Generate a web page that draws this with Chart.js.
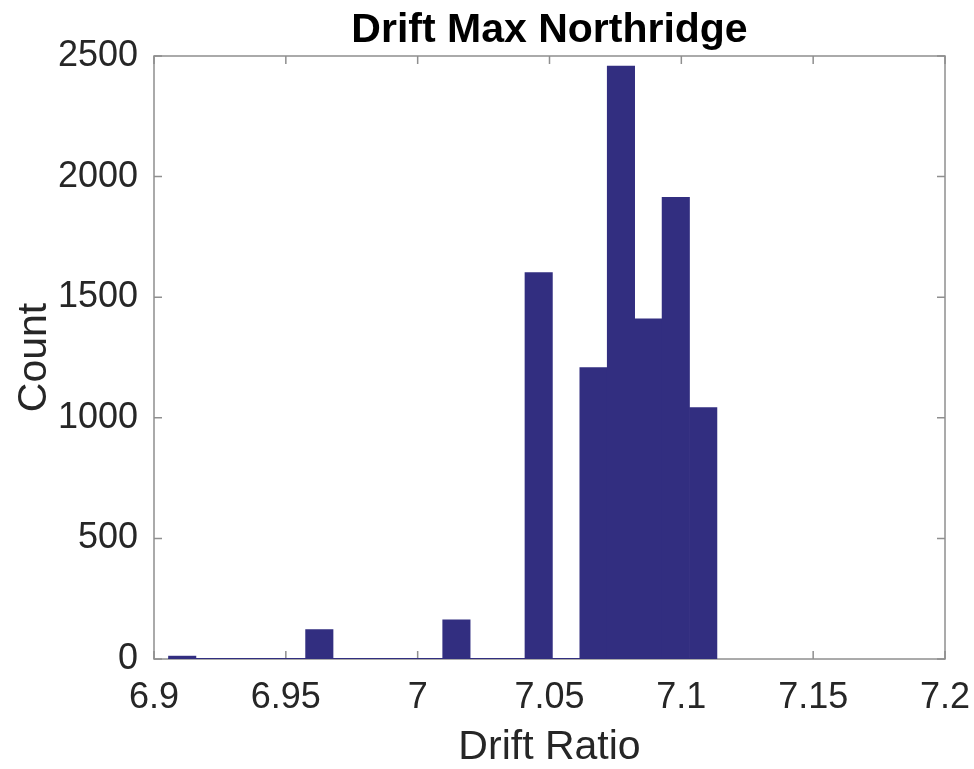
<!DOCTYPE html>
<html>
<head>
<meta charset="utf-8">
<script src="https://cdn.jsdelivr.net/npm/chart.js@4/dist/chart.umd.min.js"></script>
<style>
  html, body { margin: 0; padding: 0; background: #fff; }
  #wrap { width: 974px; height: 769px; }
</style>
</head>
<body>
<div id="wrap"><canvas id="chart" width="974" height="769"></canvas></div>
<script>
// histogram bin edges (drift ratio) and counts per bin
var binEdges = [6.9055, 6.9159, 6.9263, 6.9367, 6.9471, 6.9575, 6.9679, 6.9783, 6.9887, 6.9991,
                7.0095, 7.0199, 7.0303, 7.0407, 7.0511, 7.0615, 7.0719, 7.0823, 7.0927, 7.1031, 7.1135];
var counts = [12, 0, 0, 0, 0, 122, 0, 0, 0, 0, 162, 0, 0, 1602, 0, 1208, 2458, 1410, 1914, 1042];
var xTickLabels = ["6.9", "6.95", "7", "7.05", "7.1", "7.15", "7.2"];
var yTickLabels = ["0", "500", "1000", "1500", "2000", "2500"];

var barColor = "#322e80";
var boxColor = "#8f8f8f";
var textColor = "#262626";

var bars = [];
for (var i = 0; i < counts.length; i++) {
  bars.push({ x: (binEdges[i] + binEdges[i + 1]) / 2, y: counts[i] });
}
// zero-height bins show as a line along the baseline
var baseline = [{ x: binEdges[0], y: 0 }, { x: binEdges[binEdges.length - 1], y: 0 }];

// box round the axes and inward tick marks, like matlab
var boxPlugin = {
  id: "box",
  beforeDatasetsDraw: function (chart) {
    var c = chart.ctx;
    var a = chart.chartArea;
    var xs = chart.scales.x, ys = chart.scales.y;
    c.save();
    c.strokeStyle = boxColor;
    c.lineWidth = 1.5;
    c.beginPath();
    xs.ticks.forEach(function (t) {
      var px = xs.getPixelForValue(t.value);
      c.moveTo(px, a.bottom); c.lineTo(px, a.bottom - 8);
      c.moveTo(px, a.top); c.lineTo(px, a.top + 8);
    });
    ys.ticks.forEach(function (t) {
      var py = ys.getPixelForValue(t.value);
      c.moveTo(a.left, py); c.lineTo(a.left + 8, py);
      c.moveTo(a.right, py); c.lineTo(a.right - 8, py);
    });
    c.stroke();
    c.strokeRect(a.left, a.top, a.right - a.left, a.bottom - a.top);
    c.restore();
  }
};

const ctx = document.getElementById("chart").getContext("2d");
new Chart(ctx, {
  type: "bar",
  data: {
    datasets: [
      {
        type: "bar",
        label: "Count",
        data: bars,
        backgroundColor: barColor,
        borderWidth: 0,
        barPercentage: 1,
        categoryPercentage: 1,
        order: 2
      },
      {
        type: "line",
        label: "base",
        data: baseline,
        borderColor: barColor,
        borderWidth: 2,
        pointRadius: 0,
        order: 1
      }
    ]
  },
  options: {
    responsive: false,
    animation: false,
    layout: { padding: { left: 0, right: 29, top: 0, bottom: 0 } },
    plugins: {
      legend: { display: false },
      tooltip: { enabled: false },
      title: {
        display: true,
        text: "Drift Max Northridge",
        fullSize: false,
        color: "#000",
        font: { family: "Liberation Sans, Arial, sans-serif", size: 41, weight: "bold", lineHeight: 1 },
        padding: { top: 10, bottom: 5 }
      }
    },
    scales: {
      x: {
        type: "linear",
        min: 6.9,
        max: 7.2,
        offset: false,
        grid: { display: false, drawTicks: false },
        border: { display: false },
        afterFit: function (s) { s.height = 110; s.paddingLeft = 0; s.paddingRight = 0; },
        afterBuildTicks: function (s) {
          s.ticks = xTickLabels.map(function (l) { return { value: parseFloat(l) }; });
        },
        ticks: {
          padding: 17,
          color: textColor,
          font: { family: "Liberation Sans, Arial, sans-serif", size: 36 },
          callback: function (v, i) { return xTickLabels[i]; }
        },
        title: {
          display: true,
          text: "Drift Ratio",
          color: textColor,
          font: { family: "Liberation Sans, Arial, sans-serif", size: 41, lineHeight: 1 },
          padding: { top: 0, bottom: 1 }
        }
      },
      y: {
        type: "linear",
        min: 0,
        max: 2500,
        grid: { display: false, drawTicks: false },
        border: { display: false },
        afterFit: function (s) { s.width = 154; },
        afterBuildTicks: function (s) {
          s.ticks = yTickLabels.map(function (l) { return { value: parseFloat(l) }; });
        },
        ticks: {
          padding: 16,
          color: textColor,
          font: { family: "Liberation Sans, Arial, sans-serif", size: 36 },
          callback: function (v, i) { return yTickLabels[i]; }
        },
        title: {
          display: true,
          text: "Count",
          color: textColor,
          font: { family: "Liberation Sans, Arial, sans-serif", size: 41, lineHeight: 1 },
          padding: { top: 14, bottom: 0 }
        }
      }
    }
  },
  plugins: [boxPlugin]
});
</script>
</body>
</html>
